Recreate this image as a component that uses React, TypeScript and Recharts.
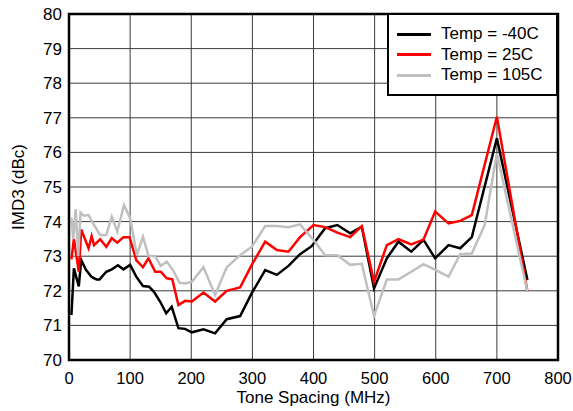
import React from 'react';
import { LineChart, Line, XAxis, YAxis, CartesianGrid, ReferenceArea, Legend } from 'recharts';

const xTicks = [0, 100, 200, 300, 400, 500, 600, 700, 800];
const yTicks = [70, 71, 72, 73, 74, 75, 76, 77, 78, 79, 80];

const seriesNames = ['Temp = -40C', 'Temp = 25C', 'Temp = 105C'];
const seriesColors = ['#000000', '#ff0000', '#c0c0c0'];

// [tone spacing MHz, IMD3 dBc]
const tempM40: [number, number][] = [
  [4, 71.3], [8, 72.65], [16, 72.13], [20, 72.89], [28, 72.6], [37, 72.4], [45, 72.33], [50, 72.33],
  [61, 72.55], [70, 72.62], [80, 72.74], [89, 72.62], [100, 72.75], [110, 72.41], [121, 72.14],
  [131, 72.12], [139, 71.97], [149, 71.69], [159, 71.35], [168, 71.54], [179, 70.92], [190, 70.9],
  [201, 70.8], [220, 70.89], [239, 70.77], [258, 71.18], [280, 71.27], [299, 71.93], [321, 72.6],
  [340, 72.46], [359, 72.72], [378, 73.06], [397, 73.29], [419, 73.81], [439, 73.9], [460, 73.66],
  [479, 73.85], [499, 72.07], [520, 72.94], [539, 73.42], [560, 73.13], [580, 73.47], [599, 72.94],
  [621, 73.32], [640, 73.23], [659, 73.55], [700, 76.41], [750, 72.31],
];

const temp25: [number, number][] = [
  [4, 72.91], [8, 73.5], [16, 72.55], [20, 73.77], [32, 73.23], [37, 73.58], [41, 73.32], [51, 73.49],
  [61, 73.27], [70, 73.52], [79, 73.39], [89, 73.55], [99, 73.55], [110, 72.89], [121, 72.68],
  [130, 72.94], [141, 72.55], [150, 72.55], [160, 72.36], [169, 72.33], [179, 71.59], [190, 71.71],
  [201, 71.69], [220, 71.95], [239, 71.69], [258, 72.0], [280, 72.1], [299, 72.75], [321, 73.42],
  [340, 73.18], [359, 73.13], [378, 73.55], [400, 73.9], [419, 73.84], [439, 73.68], [460, 73.55],
  [479, 73.87], [499, 72.26], [520, 73.32], [539, 73.49], [560, 73.34], [580, 73.48], [599, 74.29],
  [621, 73.95], [640, 74.02], [659, 74.19], [700, 77.03], [750, 71.97],
];

const temp105: [number, number][] = [
  [4, 74.12], [7, 73.49], [11, 74.36], [15, 73.01], [19, 74.26], [24, 74.17], [32, 74.19], [40, 73.93],
  [51, 73.61], [61, 73.61], [70, 74.14], [79, 73.71], [90, 74.48], [100, 74.1], [111, 73.03],
  [121, 73.56], [130, 73.01], [141, 73.0], [150, 72.72], [160, 72.84], [170, 72.6], [181, 72.23],
  [190, 72.21], [201, 72.26], [220, 72.68], [239, 71.88], [258, 72.68], [280, 73.03], [299, 73.27],
  [321, 73.87], [340, 73.87], [359, 73.84], [378, 73.92], [400, 73.47], [419, 73.03], [439, 73.03],
  [460, 72.75], [479, 72.78], [499, 71.27], [520, 72.33], [539, 72.33], [560, 72.55], [580, 72.77],
  [600, 72.6], [621, 72.41], [640, 73.06], [659, 73.08], [680, 73.9], [700, 75.97], [750, 71.97],
];

const toData = (pts: [number, number][]) => pts.map(([x, y]) => ({ x, y }));
const allSeries = [tempM40, temp25, temp105];

const FONT = '"Liberation Sans", Arial, sans-serif';

const LegendBox = () => (
  <div
    style={{
      width: 167,
      height: 79,
      border: '2px solid #000',
      background: '#fff',
      fontFamily: FONT,
      fontSize: 17,
      color: '#000',
      boxSizing: 'content-box',
    }}
  >
    {seriesNames.map((n, i) => (
      <div key={n} style={{ display: 'flex', alignItems: 'center', height: 20.5, marginTop: i === 0 ? 9 : 0 }}>
        <div style={{ width: 34, height: 3, background: seriesColors[i], marginLeft: 8, marginRight: 10 }} />
        <span style={{ lineHeight: '20px' }}>{n}</span>
      </div>
    ))}
  </div>
);

export default function App() {
  return (
    <div style={{ position: 'absolute', left: 0, top: 0, width: 573, height: 411, background: '#fff' }}>
      <LineChart width={573} height={411} margin={{ top: 14, right: 15, bottom: 0, left: 0 }}>
        <CartesianGrid stroke="#3a3a3a" strokeWidth={1} />
        <XAxis
          type="number"
          dataKey="x"
          domain={[0, 800]}
          ticks={xTicks}
          interval={0}
          tickLine={false}
          axisLine={false}
          height={51}
          tickMargin={6}
          tick={{ fill: '#000', fontSize: 16.5, fontFamily: FONT }}
          label={{ value: 'Tone Spacing (MHz)', position: 'insideBottom', offset: 8, fill: '#000', fontSize: 17, fontFamily: FONT }}
        />
        <YAxis
          type="number"
          domain={[70, 80]}
          ticks={yTicks}
          interval={0}
          tickLine={false}
          axisLine={false}
          width={69}
          tickMargin={1}
          tick={{ fill: '#000', fontSize: 17, fontFamily: FONT }}
          label={{ value: 'IMD3 (dBc)', angle: -90, position: 'insideLeft', offset: 18, fill: '#000', fontSize: 17, fontFamily: FONT, style: { textAnchor: 'middle' } }}
        />
        <ReferenceArea x1={0} x2={800} y1={70} y2={80} fill="none" stroke="#000" strokeWidth={2.5} ifOverflow="visible" />
        {allSeries.map((pts, i) => (
          <Line
            key={seriesNames[i]}
            data={toData(pts)}
            dataKey="y"
            name={seriesNames[i]}
            stroke={seriesColors[i]}
            strokeWidth={2.5}
            dot={false}
            activeDot={false}
            isAnimationActive={false}
            strokeLinejoin="miter"
          />
        ))}
        <Legend
          layout="horizontal"
          verticalAlign="middle"
          align="center"
          content={() => <LegendBox />}
          wrapperStyle={{ position: 'absolute', top: 13, left: 387, width: 171, height: 83, margin: 0, padding: 0 }}
        />
      </LineChart>
    </div>
  );
}
